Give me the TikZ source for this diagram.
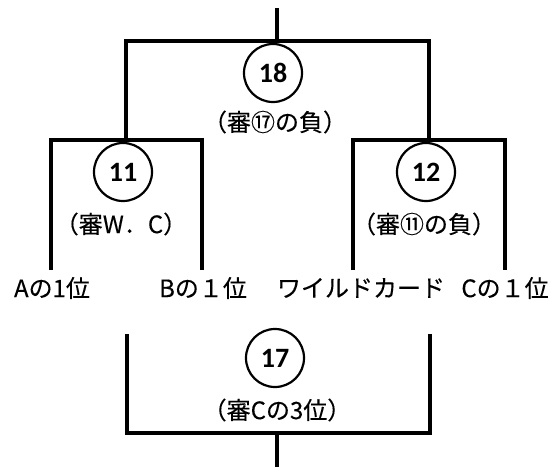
\documentclass[tikz,border=0pt]{standalone}
\usepackage{fontspec}
\setmainfont{Noto Sans CJK JP}[FakeBold=0.25]
\newfontfamily\numfont{Carlito}
\begin{document}
\begin{tikzpicture}[x=1pt,y=-1pt,
  br/.style={line width=3.2pt},
  num/.style={circle,draw,line width=2.2pt,minimum size=58pt,inner sep=0pt,font=\numfont\bfseries\fontsize{28}{28}\selectfont},
  lbl/.style={inner sep=0pt,font=\fontsize{24}{24}\selectfont}]
\useasboundingbox (0,0) rectangle (555,467);
% top bracket
\coordinate (top) at (277,8);
\coordinate (j18) at (277,41);
\coordinate (p11) at (126,140);
\coordinate (p12) at (429,140);
\coordinate (aL) at (51,270);
\coordinate (aR) at (202,270);
\coordinate (bL) at (353,270);
\coordinate (bR) at (505,270);
\draw[br] (top) -- (j18);
\draw[br] (p11) |- (j18) -| (p12);
\draw[br] (aL) |- (p11) -| (aR);
\draw[br] (bL) |- (p12) -| (bR);
% nodes
\node[num] (c18) at (273,73) {18};
\node[lbl] (t18) at (275,122) {（審⑰の負）};
\node[num] (c11) at (123,172) {11};
\node[lbl] (t11) at (121,224) {（審W．C）};
\node[num] (c12) at (426,172) {12};
\node[lbl] (t12) at (424,224) {（審⑪の負）};
\node[lbl] (la) at (52,288) {Aの1位};
\node[lbl] (lb) at (203,288) {Bの１位};
\node[lbl] (lw) at (361,288) {ワイルドカード};
\node[lbl] (lc) at (505,288) {Cの１位};
% bottom bracket
\coordinate (qL) at (127,334);
\coordinate (qR) at (430,334);
\coordinate (j17) at (277,433);
\coordinate (bot) at (277,467);
\draw[br] (qL) |- (j17) -| (qR);
\draw[br] (j17) -- (bot);
\node[num] (c17) at (275,358) {17};
\node[lbl] (t17) at (277,410) {（審Cの3位）};
\end{tikzpicture}
\end{document}
